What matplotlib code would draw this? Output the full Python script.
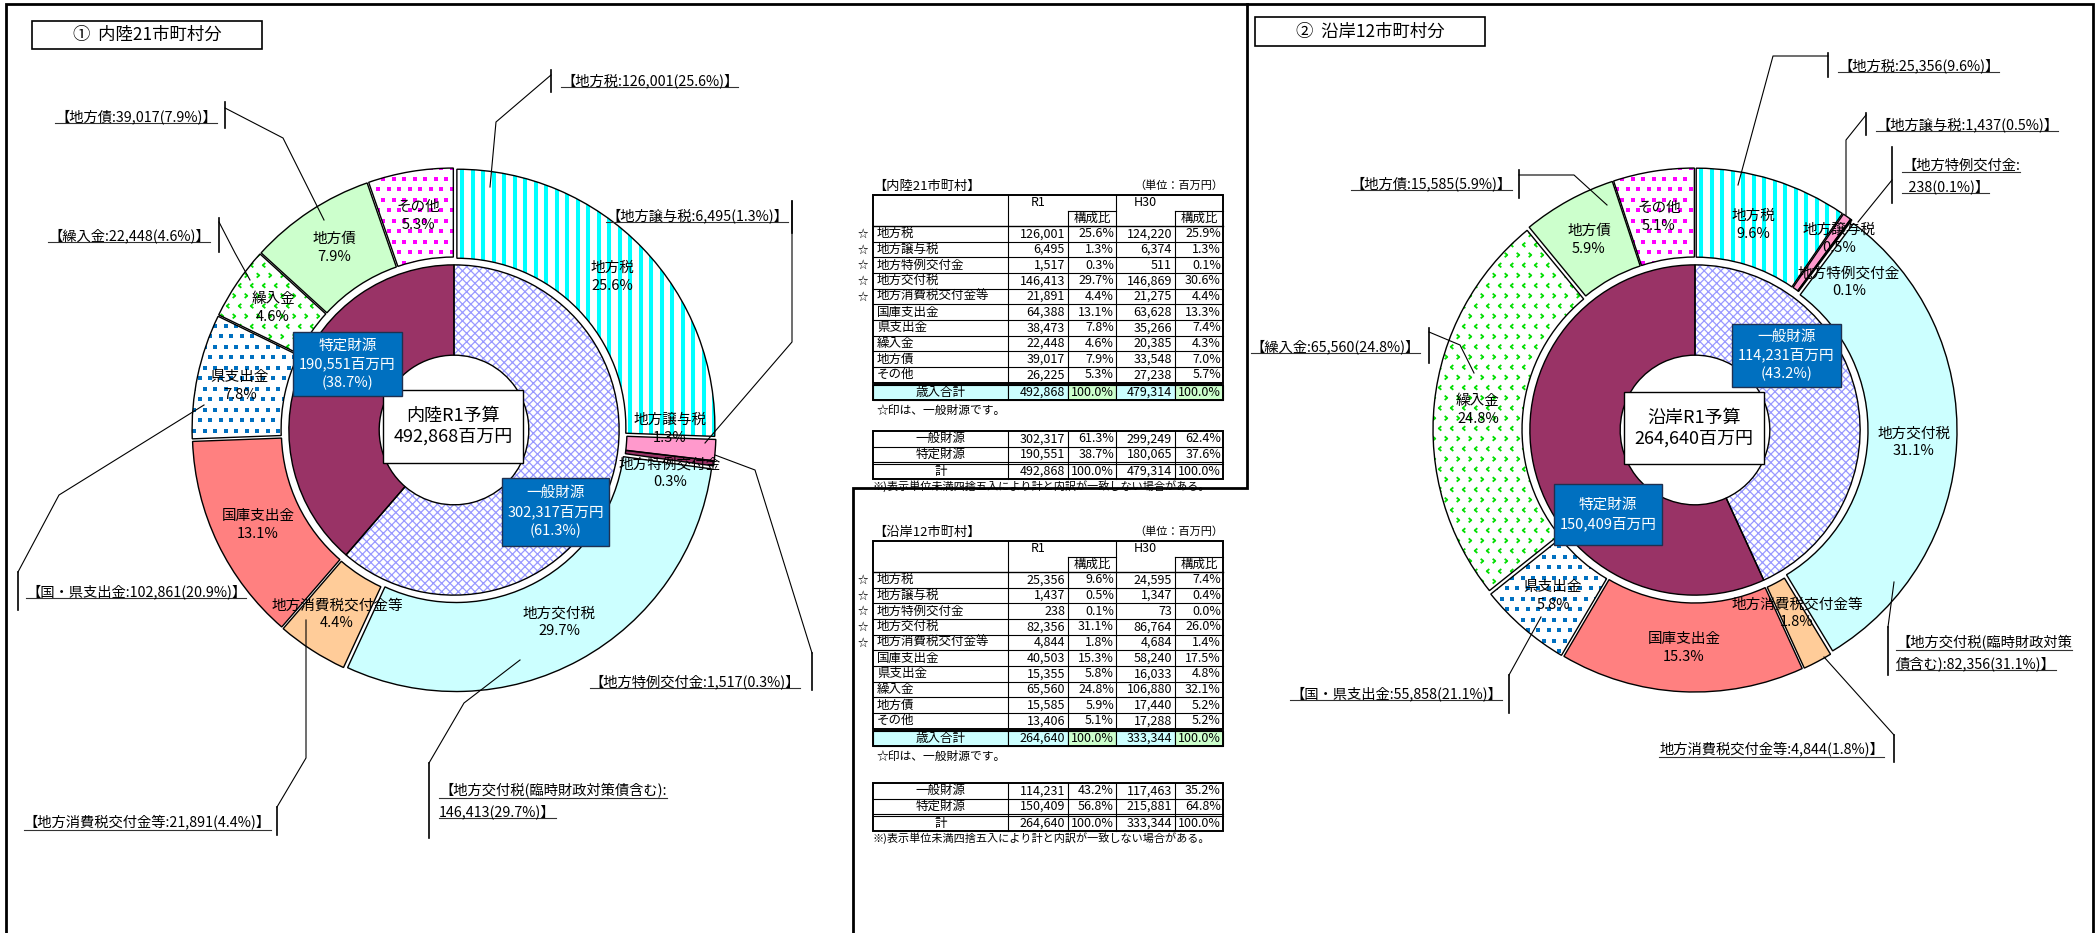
import numpy as np
import matplotlib.pyplot as plt
import matplotlib.patches as mpatches
from matplotlib.collections import LineCollection
from matplotlib.path import Path

plt.rcParams['font.family'] = ['Noto Sans CJK JP', 'DejaVu Sans']
plt.rcParams['hatch.linewidth'] = 0.9

# 歳入内訳（単位：百万円）
items = ['地方税', '地方譲与税', '地方特例交付金', '地方交付税', '地方消費税交付金等',
         '国庫支出金', '県支出金', '繰入金', '地方債', 'その他']
inland_r1 = [126001, 6495, 1517, 146413, 21891, 64388, 38473, 22448, 39017, 26225]
inland_h30 = [124220, 6374, 511, 146869, 21275, 63628, 35266, 20385, 33548, 27238]
coastal_r1 = [25356, 1437, 238, 82356, 4844, 40503, 15355, 65560, 15585, 13406]
coastal_h30 = [24595, 1347, 73, 86764, 4684, 58240, 16033, 106880, 17440, 17288]
n_general = 5  # 地方税〜地方消費税交付金等は一般財源

fills = ['white', '#FF99CC', '#993366', '#CCFFFF', '#FFCC99',
         '#FF8080', 'white', 'white', '#CCFFCC', 'white']

fig = plt.figure(figsize=(21, 9.33), dpi=100)
ax = fig.add_axes([0, 0, 1, 1])
ax.set_autoscale_on(False)

R = 258


def pct(v, tot):
    return f'{v / tot * 100:.1f}%'


def stripes(wedge, color, pitch, lw):
    bb = wedge.get_path().get_extents()
    xs = np.arange(np.floor(bb.x0 / pitch) * pitch, bb.x1 + pitch, pitch)
    lc = LineCollection([[(x, bb.y0), (x, bb.y1)] for x in xs], colors=color,
                        linewidths=lw, zorder=1.5)
    ax.add_collection(lc)
    lc.set_clip_path(wedge)


def grid_pts(wedge, pitch, row_pitch):
    bb = wedge.get_path().get_extents()
    px, py, odd = [], [], []
    for j, y in enumerate(np.arange(np.floor(bb.y0 / row_pitch) * row_pitch,
                                    bb.y1 + row_pitch, row_pitch)):
        off = pitch / 2 if j % 2 else 0
        xs = np.arange(np.floor(bb.x0 / pitch) * pitch + off, bb.x1 + pitch, pitch)
        px += list(xs)
        py += [y] * len(xs)
        odd += [j % 2] * len(xs)
    return np.array(px), np.array(py), np.array(odd)


def dots(wedge, color, pitch):
    px, py, _ = grid_pts(wedge, pitch, pitch)
    sc = ax.scatter(px, py, s=5.5, marker='s', c=color, linewidths=0, zorder=1.5)
    sc.set_clip_path(wedge)


def chevrons(wedge, color, pitch):
    px, py, odd = grid_pts(wedge, pitch, pitch * 0.85)
    left = Path([(0.6, -1), (-0.6, 0), (0.6, 1)], [Path.MOVETO, Path.LINETO, Path.LINETO])
    right = Path([(-0.6, -1), (0.6, 0), (-0.6, 1)], [Path.MOVETO, Path.LINETO, Path.LINETO])
    for flag, mk in ((0, left), (1, right)):
        m = odd == flag
        sc = ax.scatter(px[m], py[m], s=10, marker=mk, facecolors='none',
                        edgecolors=color, linewidths=1.3, zorder=1.5)
        sc.set_clip_path(wedge)


def donut(cx, cy, values):
    total = sum(values)
    outer, _ = ax.pie(values, radius=R, center=(cx, cy), startangle=-90, counterclock=True,
                      explode=[4] * len(values), colors=fills, frame=True,
                      wedgeprops=dict(width=R * 0.345, linewidth=0))
    gen = sum(values[:n_general])
    inner, _ = ax.pie([gen, total - gen], radius=R * 0.64, center=(cx, cy), startangle=-90,
                      counterclock=True, colors=['white', '#993366'], frame=True,
                      wedgeprops=dict(width=R * 0.35, linewidth=0))
    inner[0].set_hatch('xxxx')
    inner[0].set_edgecolor('#9999FF')
    inner[0].set_linewidth(0)
    stripes(outer[0], '#00FFFF', 10.5, 2.9)
    dots(outer[6], '#0070C0', 10.5)
    chevrons(outer[7], '#00DD00', 12)
    dots(outer[9], '#FF00FF', 10.5)
    for w in list(outer) + list(inner):
        ax.add_patch(mpatches.PathPatch(w.get_path(), fc='none', ec='black', lw=1.0, zorder=2))


def slice_labels(values, positions):
    total = sum(values)
    for name, v, (x, y) in zip(items, values, positions):
        ax.text(x, y, f'{name}\n{pct(v, total)}', ha='center', va='center',
                fontsize=10.5, linespacing=1.35, zorder=3.5)


def box(x0, y0, x1, y1, text, fc, ec, color, size, ls):
    ax.add_patch(mpatches.Rectangle((x0, y0), x1 - x0, y1 - y0, fc=fc, ec=ec, lw=1.0, zorder=4))
    ax.text((x0 + x1) / 2, (y0 + y1) / 2, text, ha='center', va='center', color=color,
            fontsize=size, linespacing=ls, zorder=5)


underlined = []


def callout(lines, x, y, ha, leader, bar):
    for k, s in enumerate(lines):
        underlined.append(ax.text(x, y + 20.5 * k, s, ha=ha, va='center', fontsize=10.3, zorder=5))
    lx, ly = zip(*leader)
    ax.plot(lx, ly, color='black', lw=0.8, zorder=3)
    ax.plot([bar[0], bar[0]], [bar[1], bar[2]], color='black', lw=1.2, zorder=3)


def tag(name, v, tot):
    return f'【{name}:{v:,}({pct(v, tot)})】'


# ---- ① 内陸21市町村分 ----
ti = sum(inland_r1)
gi = sum(inland_r1[:n_general])
donut(454, 430, inland_r1)
slice_labels(inland_r1, [(612, 277), (670, 429), (670, 473), (559, 622), (337, 614),
                         (258, 525), (240, 386), (273, 308), (334, 248), (418, 216)])
box(383, 390, 523, 463, f'内陸R1予算\n{ti:,}百万円', 'white', 'black', 'black', 13, 1.2)
box(293, 332, 402, 396, f'特定財源\n{ti - gi:,}百万円\n({pct(ti - gi, ti)})',
    '#0070C0', '#1F3050', 'white', 10.5, 1.35)
box(502, 478, 609, 546, f'一般財源\n{gi:,}百万円\n({pct(gi, ti)})',
    '#0070C0', '#1F3050', 'white', 10.5, 1.35)

callout([tag('地方税', inland_r1[0], ti)], 561, 81, 'left',
        [(490, 187), (496, 122), (551, 75)], (551, 70, 92))
callout([tag('地方債', inland_r1[8], ti)], 217, 117, 'right',
        [(324, 220), (283, 138), (225, 108)], (225, 102, 128))
callout([tag('繰入金', inland_r1[7], ti)], 210, 236, 'right',
        [(250, 280), (235, 253), (219, 222)], (219, 218, 252))
callout([tag('地方譲与税', inland_r1[1], ti)], 788, 216, 'right',
        [(705, 443), (792, 342), (792, 201)], (792, 201, 233))
callout([tag('地方特例交付金', inland_r1[2], ti)], 800, 682, 'right',
        [(715, 455), (755, 470), (812, 653)], (812, 653, 690))
callout(['【地方交付税(臨時財政対策債含む):',
         f'{inland_r1[3]:,}({pct(inland_r1[3], ti)})】'], 439, 791, 'left',
        [(520, 660), (464, 703), (429, 763)], (429, 763, 838))
callout([tag('地方消費税交付金等', inland_r1[4], ti)], 271, 823, 'right',
        [(306, 620), (306, 758), (277, 807)], (277, 807, 835))
callout([tag('国・県支出金', inland_r1[5] + inland_r1[6], ti)], 26, 592, 'left',
        [(204, 405), (59, 495), (18, 572)], (18, 572, 610))

# ---- ② 沿岸12市町村分 ----
tc = sum(coastal_r1)
gc = sum(coastal_r1[:n_general])
donut(1695, 430, coastal_r1)
slice_labels(coastal_r1, [(1753, 225), (1839, 239), (1849, 282), (1914, 442), (1797, 613),
                          (1684, 648), (1553, 596), (1478, 410), (1589, 240), (1659, 217)])
box(1624, 392, 1764, 464, f'沿岸R1予算\n{tc:,}百万円', 'white', 'black', 'black', 13, 1.2)
box(1732, 324, 1841, 387, f'一般財源\n{gc:,}百万円\n({pct(gc, tc)})',
    '#0070C0', '#1F3050', 'white', 10.5, 1.35)
box(1554, 484, 1662, 545, f'特定財源\n{tc - gc:,}百万円',
    '#0070C0', '#1F3050', 'white', 10.5, 1.35)

callout([tag('地方税', coastal_r1[0], tc)], 1838, 66, 'left',
        [(1738, 185), (1773, 56), (1828, 56)], (1828, 53, 77))
callout([tag('地方譲与税', coastal_r1[1], tc)], 1876, 125, 'left',
        [(1846, 215), (1846, 140), (1866, 115)], (1866, 113, 135))
callout(['【地方特例交付金:', f'  {coastal_r1[2]:,}({pct(coastal_r1[2], tc)})】'],
        1902, 166, 'left', [(1858, 222), (1892, 180)], (1892, 147, 203))
callout([tag('地方債', coastal_r1[8], tc)], 1512, 184, 'right',
        [(1607, 205), (1574, 175), (1519, 175)], (1519, 170, 198))
callout([tag('繰入金', coastal_r1[7], tc)], 1420, 347, 'right',
        [(1474, 373), (1460, 345), (1429, 332)], (1429, 328, 363))
callout([tag('国・県支出金', coastal_r1[5] + coastal_r1[6], tc)], 1502, 694, 'right',
        [(1541, 617), (1509, 675)], (1509, 675, 713))
callout([tag('地方消費税交付金等', coastal_r1[4], tc)[1:]], 1884, 750, 'right',
        [(1824, 657), (1894, 735)], (1894, 735, 762))
callout(['【地方交付税(臨時財政対策', f'債含む):{coastal_r1[3]:,}({pct(coastal_r1[3], tc)})】'],
        1896, 643, 'left', [(1894, 582), (1888, 627)], (1888, 627, 675))

# ---- titles ----
for (x0, y0, x1, y1), title in (((32, 21, 262, 49), '①  内陸21市町村分'),
                                ((1255, 17, 1485, 46), '②  沿岸12市町村分')):
    ax.add_patch(mpatches.Rectangle((x0, y0), x1 - x0, y1 - y0, fc='white', ec='black', lw=1.2))
    ax.text((x0 + x1) / 2, (y0 + y1) / 2, title, ha='center', va='center', fontsize=12.5)

# ---- tables ----
cols = [873, 1008, 1068, 1116, 1175, 1223]
row_h = 15.65


def hline(y, xa, xb, lw=0.8):
    ax.plot([xa, xb], [y, y], color='black', lw=lw, zorder=3)


def vline(x, ya, yb, lw=0.8):
    ax.plot([x, x], [ya, yb], color='black', lw=lw, zorder=3)


def table(name, top, mini_top, r1, h30):
    x0, xa, xb, xc, xd, x1 = cols
    t1, t0 = sum(r1), sum(h30)
    g1, g0 = sum(r1[:n_general]), sum(h30[:n_general])
    fs = 9
    ax.text(x0, top - 9, f'【{name}】', fontsize=9.5, ha='left', va='center')
    ax.text(x1, top - 9, '（単位：百万円）', fontsize=8, ha='right', va='center')
    body = top + 31
    bottom = body + 10 * row_h
    ax.text((xa + xb) / 2, top + 8, 'R1', fontsize=fs, ha='center', va='center')
    ax.text((xc + xd) / 2, top + 8, 'H30', fontsize=fs, ha='center', va='center')
    for xl, xr in ((xb, xc), (xd, x1)):
        ax.text((xl + xr) / 2, top + 23.5, '構成比', fontsize=fs, ha='center', va='center')
        hline(top + 16, xl, xr)
    for i, (lab, a, b) in enumerate(zip(items, r1, h30)):
        yc = body + (i + 0.5) * row_h
        if i < n_general:
            ax.text(863, yc, '☆', fontsize=7.5, ha='center', va='center')
        ax.text(x0 + 4, yc, lab, fontsize=fs, ha='left', va='center')
        ax.text(xb - 3, yc, f'{a:,}', fontsize=fs, ha='right', va='center')
        ax.text(xc - 2, yc, pct(a, t1), fontsize=fs, ha='right', va='center')
        ax.text(xd - 3, yc, f'{b:,}', fontsize=fs, ha='right', va='center')
        ax.text(x1 - 2, yc, pct(b, t0), fontsize=fs, ha='right', va='center')
        if i > 0:
            hline(body + i * row_h, x0, x1)
    hline(body, x0, x1, 1.0)
    for x in (xa, xc):
        vline(x, top, bottom)
    for x in (xb, xd):
        vline(x, top + 16, bottom)
    ax.add_patch(mpatches.Rectangle((x0, top), x1 - x0, bottom - top, fc='none', ec='black',
                                    lw=1.4, zorder=3))
    # 歳入合計
    ty0, ty1 = bottom + 2.5, bottom + 17
    for xl, xr, c in ((x0, xa, '#CCFFFF'), (xa, xb, '#CCFFFF'), (xb, xc, '#CCFFCC'),
                      (xc, xd, '#CCFFFF'), (xd, x1, '#CCFFCC')):
        ax.add_patch(mpatches.Rectangle((xl, ty0), xr - xl, ty1 - ty0, fc=c, ec='black',
                                        lw=0.8, zorder=2.5))
    ax.add_patch(mpatches.Rectangle((x0, ty0), x1 - x0, ty1 - ty0, fc='none', ec='black',
                                    lw=1.4, zorder=3))
    yc = (ty0 + ty1) / 2
    ax.text((x0 + xa) / 2, yc, '歳入合計', fontsize=fs, ha='center', va='center')
    ax.text(xb - 3, yc, f'{t1:,}', fontsize=fs, ha='right', va='center')
    ax.text(xc - 2, yc, '100.0%', fontsize=fs, ha='right', va='center')
    ax.text(xd - 3, yc, f'{t0:,}', fontsize=fs, ha='right', va='center')
    ax.text(x1 - 2, yc, '100.0%', fontsize=fs, ha='right', va='center')
    ax.text(x0 + 4, ty1 + 11, '☆印は、一般財源です。', fontsize=8.5, ha='left', va='center')
    # 一般財源・特定財源
    rows = [('一般財源', g1, g0), ('特定財源', t1 - g1, t0 - g0), ('計', t1, t0)]
    ys = [mini_top, mini_top + 15.5, mini_top + 31, mini_top + 33, mini_top + 47.5]
    spans = [(ys[0], ys[1]), (ys[1], ys[2]), (ys[3], ys[4])]
    for (lab, a, b), (ya, yb) in zip(rows, spans):
        yc = (ya + yb) / 2
        ax.text((x0 + xa) / 2, yc, lab, fontsize=fs, ha='center', va='center')
        ax.text(xb - 3, yc, f'{a:,}', fontsize=fs, ha='right', va='center')
        ax.text(xc - 2, yc, pct(a, t1), fontsize=fs, ha='right', va='center')
        ax.text(xd - 3, yc, f'{b:,}', fontsize=fs, ha='right', va='center')
        ax.text(x1 - 2, yc, pct(b, t0), fontsize=fs, ha='right', va='center')
    for y in ys[1:4]:
        hline(y, x0, x1)
    for x in (xa, xb, xc, xd):
        vline(x, ys[0], ys[-1])
    ax.add_patch(mpatches.Rectangle((x0, ys[0]), x1 - x0, ys[-1] - ys[0], fc='none',
                                    ec='black', lw=1.4, zorder=3))
    ax.text(x0, ys[-1] + 8, '※)表示単位未満四捨五入により計と内訳が一致しない場合がある。',
            fontsize=8, ha='left', va='center')


table('内陸21市町村', 195, 431, inland_r1, inland_h30)
table('沿岸12市町村', 541, 783, coastal_r1, coastal_h30)

# ---- frame ----
for pts in ([(6, 933), (6, 4), (2093, 4), (2093, 933)],
            [(1247, 4), (1247, 488), (853, 488), (853, 933)]):
    fx, fy = zip(*pts)
    ax.plot(fx, fy, color='black', lw=2.0, solid_joinstyle='miter', zorder=6, clip_on=False)

ax.set_xlim(0, 2100)
ax.set_ylim(933, 0)
ax.axis('off')

# underline the callout labels
fig.canvas.draw()
inv = ax.transData.inverted()
for t in underlined:
    bb = t.get_window_extent()
    (ux0, uy), (ux1, _) = inv.transform([(bb.x0, bb.y0 + 1), (bb.x1, bb.y0 + 1)])
    ax.plot([ux0, ux1], [uy, uy], color='#333333', lw=0.8, zorder=3)

fig.savefig('out.png', dpi=100, facecolor='white')
